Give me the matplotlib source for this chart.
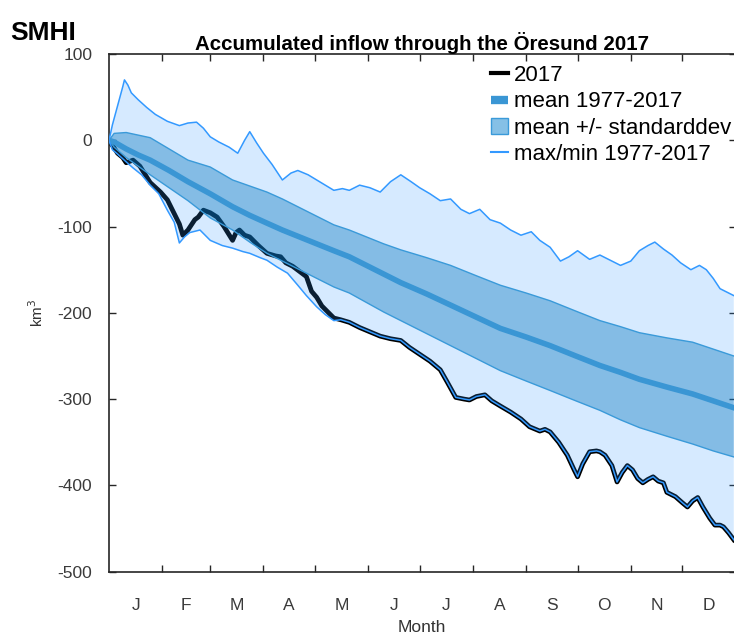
import numpy as np
import matplotlib
matplotlib.use("Agg")
import matplotlib.pyplot as plt
from matplotlib.lines import Line2D
from matplotlib.patches import Patch

plt.rcParams['font.family'] = ['Liberation Sans', 'DejaVu Sans']
plt.rcParams['axes.unicode_minus'] = False

# day of year (Jan 1 = 0) and accumulated inflow, km3
band_days = [0, 3, 10, 17, 24, 35, 46, 59, 72, 82, 92, 101, 111, 121, 131, 140, 150,
             160, 170, 185, 199, 214, 228, 243, 257, 272, 286, 298, 309, 325, 340, 352, 364]
std_upper = [0, 8, 9, 6, 3, -10, -23, -31, -46, -53, -60, -68, -78, -88, -98, -104, -112,
             -120, -127, -136, -145, -157, -168, -177, -186, -198, -209, -216, -223, -229, -234, -242, -250]
std_lower = [0, -8, -20, -30, -40, -55, -70, -90, -104, -118, -131, -140, -150, -160, -170, -177, -188,
             -199, -209, -224, -238, -253, -267, -279, -290, -302, -313, -324, -333, -343, -352, -360, -367]
mean_vals = [0, -2, -10, -17, -23, -35, -48, -62, -77, -87, -96, -104, -112, -120, -128, -135, -145,
             -155, -165, -178, -191, -205, -218, -228, -238, -250, -261, -269, -277, -286, -294, -302, -310]

max_days = [0, 2, 5, 8, 9, 11, 13, 17, 22, 27, 34, 41, 46, 51, 55, 59, 64, 70, 75, 79, 82, 86, 90,
            95, 101, 106, 110, 116, 121, 126, 131, 136, 140, 146, 152, 158, 164, 170, 176, 181, 187,
            193, 199, 205, 210, 216, 222, 228, 234, 240, 246, 251, 257, 263, 268, 273, 280, 286, 291,
            298, 304, 309, 314, 318, 323, 328, 333, 339, 344, 348, 352, 356, 360, 364]
max_vals = [0, 18, 40, 62, 70, 64, 55, 47, 38, 30, 22, 17, 20, 21, 14, 4, -2, -8, -15, 0, 10, -3, -15,
            -28, -46, -38, -35, -40, -46, -52, -58, -56, -58, -52, -55, -60, -48, -40, -48, -55, -62,
            -70, -68, -80, -85, -80, -92, -96, -104, -110, -106, -116, -124, -140, -135, -128, -138, -133, -138,
            -145, -140, -128, -122, -118, -126, -133, -142, -150, -145, -150, -160, -172, -176, -180]

y2017_days = [0, 2, 5, 8, 10, 14, 18, 24, 30, 34, 38, 41, 43, 46, 50, 52, 55, 59, 63, 67, 72, 74,
              76, 79, 82, 87, 92, 97, 100, 103, 107, 111, 115, 118, 121, 124, 127, 131, 135, 140,
              146, 152, 158, 164, 170, 175, 181, 187, 193, 197, 202, 207, 210, 214, 219, 223, 228,
              234, 240, 245, 251, 254, 257, 262, 267, 271, 273, 276, 280, 284, 286, 289, 293, 296,
              299, 302, 305, 308, 311, 314, 317, 320, 323, 325, 330, 334, 337, 340, 343, 346, 350,
              353, 356, 358, 361, 364]
y2017_vals = [-2, -6, -15, -20, -26, -23, -30, -49, -60, -69, -85, -97, -110, -104, -92, -89, -81, -84,
              -89, -100, -116, -107, -104, -110, -112, -122, -131, -134, -135, -142, -146, -152, -158,
              -175, -182, -192, -198, -206, -208, -211, -217, -222, -227, -230, -232, -240, -248, -256,
              -266, -280, -298, -300, -301, -297, -295, -302, -308, -315, -323, -332, -337, -335, -338,
              -350, -365, -382, -390, -375, -361, -360, -361, -365, -377, -396, -385, -377, -382, -392,
              -397, -393, -390, -395, -397, -408, -413, -420, -425, -418, -414, -425, -438, -446, -446,
              -448, -455, -463]

# min follows its own path until May, then it is the 2017 curve
min_days = [0, 2, 5, 10, 14, 19, 24, 29, 34, 38, 41, 44, 47, 53, 59, 66, 72, 78, 82, 88, 92, 98,
            104, 110, 115, 121, 126, 131] + y2017_days[38:]
min_vals = [0, -11, -16, -25, -32, -40, -52, -62, -81, -95, -119, -112, -107, -104, -116, -122, -125,
            -129, -131, -136, -139, -147, -154, -168, -180, -193, -202, -209] + y2017_vals[38:]

month_starts = [31, 59, 90, 120, 151, 181, 212, 243, 273, 304, 334]
month_mids = [15.5, 45, 74.5, 105, 135.5, 166, 196.5, 227.5, 258, 288.5, 319, 349.5]
month_labels = ['J', 'F', 'M', 'A', 'M', 'J', 'J', 'A', 'S', 'O', 'N', 'D']

c_light = '#3399ff'
c_std = '#0072bd'
c_edge = '#3a9ad9'
c_mean = '#3a96d4'

fig = plt.figure(figsize=(7.34, 6.34), dpi=100)
ax = fig.add_axes([109 / 734, 62.3 / 634, 626.5 / 734, 517.7 / 634])

ax.plot(y2017_days, y2017_vals, color='black', lw=3.4, zorder=1, solid_joinstyle='round')

# max/min envelope
ax.fill(np.r_[max_days, min_days[::-1]], np.r_[max_vals, min_vals[::-1]],
        color=c_light, alpha=0.2, lw=0, zorder=2)
# mean +/- std
ax.fill(np.r_[band_days, band_days[::-1]], np.r_[std_upper, std_lower[::-1]],
        color=c_std, alpha=0.38, lw=0, zorder=3)
ax.plot(band_days, std_upper, color=c_edge, lw=1.0, zorder=3)
ax.plot(band_days, std_lower, color=c_edge, lw=1.0, zorder=3)
ax.plot(band_days, mean_vals, color=c_mean, lw=4, zorder=4)
ax.plot(max_days, max_vals, color=c_light, lw=1.1, zorder=5)
ax.plot(min_days, min_vals, color=c_light, lw=1.1, zorder=5)

ax.set_xlim(0, 365)
ax.set_ylim(-500, 100)
ax.set_yticks(np.arange(-500, 101, 100))
ax.set_xticks(month_starts)
ax.set_xticklabels([])
ax.set_xticks(month_mids, minor=True)
ax.set_xticklabels(month_labels, minor=True)
ax.tick_params(which='major', direction='in', length=5, width=1, top=True, right=True,
               color='#262626', labelsize=12.5, labelcolor='#3a3a3a', pad=12)
ax.tick_params(which='minor', length=0, labelsize=12.5, labelcolor='#3a3a3a', pad=19)
for s in ax.spines.values():
    s.set_color('#262626')
    s.set_linewidth(1.2)

ax.set_xlabel('Month', fontsize=12.5, color='#333333', labelpad=5)
ax.set_ylabel('km$^3$', fontsize=11, color='#333333', labelpad=8)
ax.set_title('Accumulated inflow through the Öresund 2017', fontsize=14.8,
             fontweight='bold', pad=3)

handles = [Line2D([], [], color='black', lw=3),
           Line2D([], [], color=c_mean, lw=6, solid_capstyle='butt'),
           Patch(facecolor='#85c0e6', edgecolor=c_edge, lw=1),
           Line2D([], [], color=c_light, lw=1.5)]
labels = ['2017', 'mean 1977-2017', 'mean +/- standarddev', 'max/min 1977-2017']
ax.legend(handles, labels, loc='upper left', bbox_to_anchor=(491 / 734, 1 - 65 / 634),
          bbox_transform=fig.transFigure, frameon=False, fontsize=16, handlelength=0.78,
          handletextpad=0.27, labelspacing=0.24, borderpad=0, borderaxespad=0)

fig.text(10 / 734, 1 - 40 / 634, 'SMHI', fontsize=19, fontweight='heavy',
         fontstretch='condensed', color='black')

fig.savefig('out.png', dpi=100)
